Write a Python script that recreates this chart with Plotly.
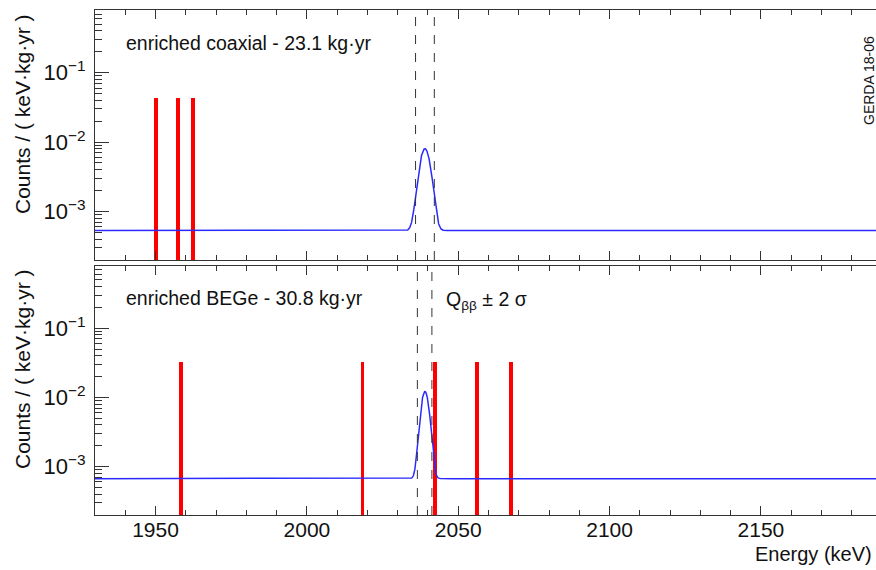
import numpy as np
import plotly.graph_objects as go

# ---- data ----
coax_events = [1950.2, 1957.4, 1962.4]
coax_event_height = [0.0433, 0.0433, 0.0433]
bege_events = [1958.4, 2018.4, 2042.4, 2056.3, 2067.4]
bege_event_height = [0.0325, 0.0325, 0.0325, 0.0325, 0.0325]

# fitted model parameters (background + Gaussian at Qbb)
coax_bkg, coax_amp, coax_mu, coax_sigma = 5.3e-4, 7.5e-3, 2039.0, 1.6
bege_bkg, bege_amp, bege_mu, bege_sigma = 6.7e-4, 1.15e-2, 2039.0, 1.2
coax_window = [2035.9, 2042.1]
bege_window = [2036.5, 2041.3]

x_range = [1930, 2190]
y_log_range = [-3.699, -0.097]
xtick_vals = [1950, 2000, 2050, 2100, 2150]
ytick_vals = [1e-3, 1e-2, 1e-1]
ytick_text = ["10<sup>\u22123</sup>", "10<sup>\u22122</sup>", "10<sup>\u22121</sup>"]

FONT = "Liberation Sans, Arial, sans-serif"
FIG_W, FIG_H = 882, 570   # canvas slightly wider than the 876 px window, right frame clipped as in the reference
L, T, W, H = 95, 10, 787, 505

xs = np.arange(x_range[0], x_range[1] + 0.05, 0.05)
def model(bkg, amp, mu, sig):
    return bkg + amp * np.exp(-(xs - mu) ** 2 / (2 * sig ** 2))

def px(x):
    return (x - L) / W

def py(y):
    return 1 - (y - T) / H

fig = go.Figure()

# top panel (coaxial) -> x2/y2
fig.add_trace(go.Scatter(x=xs, y=model(coax_bkg, coax_amp, coax_mu, coax_sigma),
                         mode="lines", line=dict(color="#2a2aff", width=1.5),
                         xaxis="x2", yaxis="y2", showlegend=False, hoverinfo="skip"))
fig.add_trace(go.Bar(x=coax_events, y=coax_event_height, width=1.25,
                     marker=dict(color="#ff0000", line=dict(width=0)),
                     xaxis="x2", yaxis="y2", showlegend=False))
# bottom panel (BEGe) -> x/y
fig.add_trace(go.Scatter(x=xs, y=model(bege_bkg, bege_amp, bege_mu, bege_sigma),
                         mode="lines", line=dict(color="#2a2aff", width=1.5),
                         xaxis="x", yaxis="y", showlegend=False, hoverinfo="skip"))
fig.add_trace(go.Bar(x=bege_events, y=bege_event_height, width=1.25,
                     marker=dict(color="#ff0000", line=dict(width=0)),
                     xaxis="x", yaxis="y", showlegend=False))

shapes = []
for xv in coax_window:
    shapes.append(dict(type="line", xref="x2", yref="y2 domain", x0=xv, x1=xv, y0=0, y1=1,
                       line=dict(color="#333", width=1, dash="dash")))
for xv in bege_window:
    shapes.append(dict(type="line", xref="x", yref="y domain", x0=xv, x1=xv, y0=0, y1=1,
                       line=dict(color="#333", width=1, dash="dash")))

axis_common = dict(showline=True, linecolor="#333", linewidth=1,
                   ticks="inside", tickcolor="#333", showgrid=False, zeroline=False)

xaxis_common = dict(axis_common, mirror="ticks", range=x_range, tickvals=xtick_vals, ticklen=9,
                    minor=dict(dtick=10, tick0=1930, ticks="inside", ticklen=5, tickcolor="#333"))

yaxis_common = dict(axis_common, mirror=True, type="log", range=y_log_range, tickvals=ytick_vals,
                    ticktext=ytick_text, ticklen=14, ticklabelstandoff=4,
                    minor=dict(dtick="D1", ticks="inside", ticklen=7, tickcolor="#333"),
                    tickfont=dict(family=FONT, size=22, color="#111"))

fig.update_layout(
    width=FIG_W, height=FIG_H,
    margin=dict(l=L, r=FIG_W - L - W, t=T, b=FIG_H - T - H, autoexpand=False),
    paper_bgcolor="white", plot_bgcolor="white",
    bargap=0,
    xaxis=dict(xaxis_common, anchor="y", domain=[0, 1], automargin=False,
               ticklabelstandoff=-4,
               tickfont=dict(family=FONT, size=21, color="#111")),
    xaxis2=dict(xaxis_common, anchor="y2", matches="x", showticklabels=False, domain=[0, 1]),
    yaxis=dict(yaxis_common, anchor="x", domain=[0, 1 - (265.7 - T) / H], automargin=False),
    yaxis2=dict(yaxis_common, anchor="x2", domain=[1 - (260 - T) / H, 1], automargin=False),
    shapes=shapes,
    annotations=[
        dict(text="Counts / ( keV\u00b7kg\u00b7yr )", textangle=-90, xref="paper", yref="paper",
             x=px(22), y=py(12), xanchor="center", yanchor="top", showarrow=False,
             font=dict(family=FONT, size=21, color="#111")),
        dict(text="Counts / ( keV\u00b7kg\u00b7yr )", textangle=-90, xref="paper", yref="paper",
             x=px(22), y=py(267), xanchor="center", yanchor="top", showarrow=False,
             font=dict(family=FONT, size=21, color="#111")),
        dict(text="enriched coaxial - 23.1 kg\u00b7yr", xref="paper", yref="paper",
             x=px(124), y=py(43), xanchor="left", yanchor="middle",
             showarrow=False, font=dict(family=FONT, size=19.5, color="#111")),
        dict(text="enriched BEGe - 30.8 kg\u00b7yr", xref="paper", yref="paper",
             x=px(124), y=py(298), xanchor="left", yanchor="middle",
             showarrow=False, font=dict(family=FONT, size=19.5, color="#111")),
        dict(text="Q<sub>\u03b2\u03b2</sub> \u00b1 2 \u03c3", xref="paper", yref="paper",
             x=px(444), y=py(300), xanchor="left", yanchor="middle",
             showarrow=False, font=dict(family=FONT, size=19.5, color="#111")),
        dict(text="Energy (keV)", xref="paper", yref="paper",
             x=px(874), y=py(554), xanchor="right", yanchor="middle",
             showarrow=False, font=dict(family=FONT, size=20, color="#111")),
        dict(text="GERDA 18-06", textangle=-90, xref="paper", yref="paper",
             x=px(869), y=py(81), xanchor="center", yanchor="middle",
             showarrow=False, font=dict(family=FONT, size=14, color="#111")),
    ],
)

fig.write_html("out.html", config={"displayModeBar": False},
               post_script="document.body.style.margin='0';document.body.style.overflow='hidden';")
